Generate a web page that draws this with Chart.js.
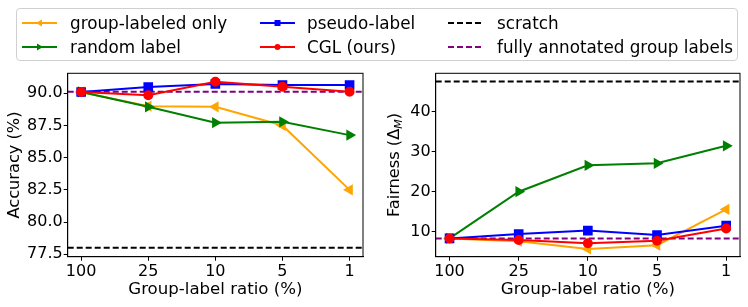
<!DOCTYPE html>
<html>
<head>
<meta charset="utf-8">
<script src="https://cdn.jsdelivr.net/npm/chart.js@4.4.0/dist/chart.umd.min.js"></script>
<style>
  body { margin: 0; background: #fff; font-family: 'DejaVu Sans', sans-serif; }
  #wrap { position: relative; width: 748px; height: 307px; overflow: hidden; }
  .cv { position: absolute; top: 0; height: 307px; }
  #legend {
    position: absolute; left: 16px; top: 8px; width: 720px; height: 51px;
    border: 1px solid #d0d0d0; border-radius: 4px; background: rgba(255,255,255,0.85);
    z-index: 2; font-size: 16.8px; color: #000;
  }
  .item { position: absolute; height: 20px; line-height: 20px; white-space: nowrap; }
  .item svg { position: absolute; left: 0; top: 0; }
  .item span { position: absolute; top: 0; }
</style>
</head>
<body>
<div id="wrap">
  <canvas id="accChart" class="cv" style="left:0px;width:372px;"></canvas>
  <canvas id="fairChart" class="cv" style="left:372px;width:376px;"></canvas>
  <div id="legend"></div>
</div>
<script>
// group-label ratio (%) on the x axis
const ratios = ['100', '25', '10', '5', '1'];

// accuracy (%)
const accGroupOnly = [90.1, 89.0, 88.95, 87.5, 82.5];
const accRandom = [90.1, 88.95, 87.72, 87.78, 86.75];
const accPseudo = [90.1, 90.48, 90.72, 90.64, 90.64];
const accCGL = [90.1, 89.85, 90.9, 90.5, 90.12];
const accScratch = 78.0;
const accFull = 90.12;

// fairness (Delta_M)
const fairGroupOnly = [8.3, 7.6, 5.65, 6.6, 15.6];
const fairRandom = [8.3, 20.0, 26.6, 27.1, 31.5];
const fairPseudo = [8.3, 9.4, 10.25, 9.16, 11.5];
const fairCGL = [8.3, 7.9, 7.1, 7.7, 10.8];
const fairScratch = 47.6;
const fairFull = 8.3;

const accTicks = [77.5, 80.0, 82.5, 85.0, 87.5, 90.0];
const fairTicks = [10, 20, 30, 40];

const FONT = 'DejaVu Sans';
const xMin = -0.2, xMax = ratios.length - 1 + 0.2;

function pts(arr) {
  return arr.map((v, i) => ({ x: i, y: v }));
}
function hline(v) {
  return [{ x: xMin, y: v }, { x: xMax, y: v }];
}

function seriesSets(groupOnly, random, pseudo, cgl, scratch, full) {
  const line = (label, data, color, style, radius, rot, order) => ({
    label, data: pts(data), borderColor: color, backgroundColor: color,
    pointBackgroundColor: color, pointBorderColor: color, borderWidth: 2,
    pointStyle: style, pointRadius: radius, pointRotation: rot, order
  });
  return [
    line('group-labeled only', groupOnly, 'orange', 'triangle', 4.5, -90, 4),
    line('random label', random, 'green', 'triangle', 4.5, 90, 3),
    line('pseudo-label', pseudo, 'blue', 'rect', 5.4, 0, 2),
    line('CGL (ours)', cgl, 'red', 'circle', 4, 0, 1),
    { label: 'scratch', data: hline(scratch), borderColor: 'black', borderWidth: 2,
      borderDash: [6, 3], pointRadius: 0, order: 5 },
    { label: 'fully annotated group labels', data: hline(full), borderColor: 'purple',
      borderWidth: 2, borderDash: [6, 3], pointRadius: 0, order: 6 }
  ];
}

const framePlugin = {
  id: 'frame',
  afterDraw(chart, args, opts) {
    const { ctx, chartArea: a } = chart;
    ctx.save();
    ctx.strokeStyle = '#000';
    ctx.lineWidth = 1;
    ctx.strokeRect(a.left, a.top, a.right - a.left, a.bottom - a.top);
    // y axis title (with optional italic subscript)
    const cy = (a.top + a.bottom) / 2;
    ctx.translate(opts.titleX, cy);
    ctx.rotate(-Math.PI / 2);
    ctx.fillStyle = '#000';
    ctx.textBaseline = 'middle';
    ctx.textAlign = 'left';
    const main = '16.2px "' + FONT + '"';
    const sub = 'italic 11px "' + FONT + '"';
    ctx.font = main;
    const w1 = ctx.measureText(opts.pre).width;
    const w3 = ctx.measureText(opts.post).width;
    ctx.font = sub;
    const w2 = opts.sub ? ctx.measureText(opts.sub).width : 0;
    let x = -(w1 + w2 + w3) / 2;
    ctx.font = main;
    ctx.fillText(opts.pre, x, 0);
    x += w1;
    if (opts.sub) {
      ctx.font = sub;
      ctx.fillText(opts.sub, x, 4);
      x += w2;
    }
    ctx.font = main;
    ctx.fillText(opts.post, x, 0);
    ctx.restore();
  }
};

function makeChart(id, datasets, yMin, yMax, yTicks, fmt, yWidth, padRight, title) {
  return new Chart(document.getElementById(id), {
    type: 'line',
    data: { datasets },
    plugins: [framePlugin],
    options: {
      responsive: false,
      animation: false,
      layout: { padding: { top: 73.3, right: padRight, bottom: 0, left: 0 } },
      plugins: {
        legend: { display: false },
        tooltip: { enabled: false },
        frame: title
      },
      scales: {
        x: {
          type: 'linear', min: xMin, max: xMax,
          afterBuildTicks: s => { s.ticks = ratios.map((r, i) => ({ value: i })); },
          afterFit: s => { s.height = 50.3; },
          ticks: { callback: v => ratios[v], color: '#000', padding: 2,
                   font: { family: FONT, size: 16 }, maxRotation: 0 },
          grid: { drawOnChartArea: false, drawTicks: true, tickLength: 4, tickColor: '#000' },
          border: { color: '#000' },
          title: { display: true, text: 'Group-label ratio (%)', color: '#000',
                   font: { family: FONT, size: 16.6 }, padding: { top: 0, bottom: 7 } }
        },
        y: {
          min: yMin, max: yMax,
          afterBuildTicks: s => { s.ticks = yTicks.map(v => ({ value: v })); },
          afterFit: s => { s.width = yWidth; },
          ticks: { callback: fmt, color: '#000', padding: 1,
                   font: { family: FONT, size: 16 } },
          grid: { drawOnChartArea: false, drawTicks: true, tickLength: 4, tickColor: '#000' },
          border: { color: '#000' }
        }
      }
    }
  });
}

document.getElementById('accChart').width = 372;
document.getElementById('accChart').height = 307;
document.getElementById('fairChart').width = 376;
document.getElementById('fairChart').height = 307;

makeChart('accChart',
  seriesSets(accGroupOnly, accRandom, accPseudo, accCGL, accScratch, accFull),
  77.31, 91.55, accTicks, v => v.toFixed(1), 67.7, 9,
  { titleX: 15, pre: 'Accuracy (%)', sub: '', post: '' });

makeChart('fairChart',
  seriesSets(fairGroupOnly, fairRandom, fairPseudo, fairCGL, fairScratch, fairFull),
  3.72, 49.65, fairTicks, v => String(v), 63.7, 8,
  { titleX: 23, pre: 'Fairness (Δ', sub: 'M', post: ')' });

// legend built as html
const legendItems = [
  { text: 'group-labeled only', color: 'orange', mark: 'left', col: 0, row: 0 },
  { text: 'random label', color: 'green', mark: 'right', col: 0, row: 1 },
  { text: 'pseudo-label', color: 'blue', mark: 'square', col: 1, row: 0 },
  { text: 'CGL (ours)', color: 'red', mark: 'circle', col: 1, row: 1 },
  { text: 'scratch', color: 'black', mark: 'dash', col: 2, row: 0 },
  { text: 'fully annotated group labels', color: 'purple', mark: 'dash', col: 2, row: 1 }
];
const colX = [5, 243, 431];
const rowY = [3.7, 27.7];
const legend = document.getElementById('legend');
legendItems.forEach(it => {
  const d = document.createElement('div');
  d.className = 'item';
  d.style.left = colX[it.col] + 'px';
  d.style.top = rowY[it.row] + 'px';
  let m = '';
  const c = it.color;
  if (it.mark === 'dash') {
    m = `<line x1="0" y1="10" x2="35" y2="10" stroke="${c}" stroke-width="2" stroke-dasharray="6 3"/>`;
  } else {
    m = `<line x1="0" y1="10" x2="35" y2="10" stroke="${c}" stroke-width="2"/>`;
    if (it.mark === 'left') m += `<polygon points="14,10 20,6.5 20,13.5" fill="${c}"/>`;
    if (it.mark === 'right') m += `<polygon points="21,10 15,6.5 15,13.5" fill="${c}"/>`;
    if (it.mark === 'square') m += `<rect x="14.5" y="7" width="6" height="6" fill="${c}"/>`;
    if (it.mark === 'circle') m += `<circle cx="17.5" cy="10" r="3" fill="${c}"/>`;
  }
  d.innerHTML = `<svg width="36" height="20">${m}</svg><span style="left:${it.col === 0 ? 48 : (it.col === 1 ? 47 : 49)}px">${it.text}</span>`;
  legend.appendChild(d);
});
</script>
</body>
</html>
